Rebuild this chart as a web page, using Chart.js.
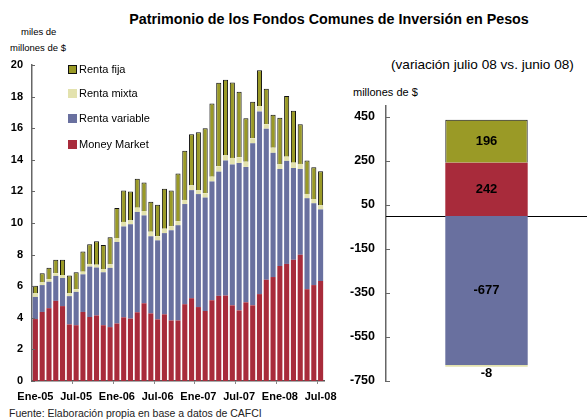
<!DOCTYPE html>
<html>
<head>
<meta charset="utf-8">
<title>Patrimonio de los FCI en Pesos</title>
<script src="https://cdn.jsdelivr.net/npm/chart.js"></script>
<style>
    body { margin: 0; background: #fff; font-family: "Liberation Sans", Arial, sans-serif; }
    .page { position: relative; width: 587px; height: 419px; overflow: hidden; }
    .txt { position: absolute; white-space: nowrap; color: #000; }
    canvas { position: absolute; }
    .sq { position: absolute; width: 9px; height: 9px; box-sizing: border-box; }
</style>
</head>
<body>
<div class="page">
    <div class="txt" style="left:329px; top:11px; font:bold 14.3px/16px 'Liberation Sans'; transform:translateX(-50%);">Patrimonio de los Fondos Comunes de Inversión en Pesos</div>
    <div class="txt" style="left:21px; top:27px; font:9.5px/10px 'Liberation Sans';">miles de</div>
    <div class="txt" style="left:10px; top:43px; font:9.5px/10px 'Liberation Sans';">millones de $</div>
    <div class="txt" style="left:391px; top:57px; font:13.6px/16px 'Liberation Sans';">(variación julio 08 vs. junio 08)</div>
    <div class="txt" style="left:353px; top:86px; font:11px/12px 'Liberation Sans';">millones de $</div>
    <div class="txt" style="left:9px; top:407px; font:10.5px/12px 'Liberation Sans'; color:#222;">Fuente: Elaboración propia en base a datos de CAFCI</div>

    <canvas id="variacion" width="247" height="295" style="left:340px; top:96px;"></canvas>
    <canvas id="evolucion" width="345" height="356" style="left:0; top:55px;"></canvas>

    <!-- leyenda -->
    <div class="sq" style="left:68px; top:65px; background:#9a9a26; border:1px solid #111;"></div>
    <div class="txt" style="left:79px; top:63px; font:11px/13px 'Liberation Sans';">Renta fija</div>
    <div class="sq" style="left:68px; top:89px; background:#e3e2ae;"></div>
    <div class="txt" style="left:79px; top:87px; font:11px/13px 'Liberation Sans';">Renta mixta</div>
    <div class="sq" style="left:68px; top:114px; background:#69709f;"></div>
    <div class="txt" style="left:79px; top:112px; font:11px/13px 'Liberation Sans';">Renta variable</div>
    <div class="sq" style="left:68px; top:140px; background:#a82b3b;"></div>
    <div class="txt" style="left:79px; top:138px; font:11px/13px 'Liberation Sans';">Money Market</div>
</div>

<script>
    // Patrimonio mensual, miles de millones de $
    const meses = [
        'Ene-05','Feb-05','Mar-05','Abr-05','May-05','Jun-05','Jul-05','Ago-05','Sep-05','Oct-05','Nov-05','Dic-05',
        'Ene-06','Feb-06','Mar-06','Abr-06','May-06','Jun-06','Jul-06','Ago-06','Sep-06','Oct-06','Nov-06','Dic-06',
        'Ene-07','Feb-07','Mar-07','Abr-07','May-07','Jun-07','Jul-07','Ago-07','Sep-07','Oct-07','Nov-07','Dic-07',
        'Ene-08','Feb-08','Mar-08','Abr-08','May-08','Jun-08','Jul-08'
    ];
    const moneyMarket = [3.92,4.37,4.61,5.07,4.74,3.58,3.53,4.37,4.05,4.15,3.53,3.41,3.64,4.03,3.95,4.35,4.92,4.28,3.90,4.22,3.83,3.83,4.86,5.24,4.68,4.43,5.11,5.39,5.41,4.79,4.47,4.98,4.79,5.50,6.41,6.58,7.28,7.41,7.67,7.99,5.81,6.07,6.33];
    const rentaVariable = [1.40,1.70,1.67,1.58,1.78,1.79,2.11,2.38,3.19,3.03,3.35,3.75,5.16,5.75,5.97,6.35,5.56,4.88,5.00,5.14,5.71,6.03,6.34,6.84,7.15,7.18,7.52,7.86,8.54,8.91,9.33,8.57,10.25,11.56,9.56,7.86,6.14,6.52,5.81,5.43,5.76,5.18,4.53];
    const rentaMixta = [0.22,0.17,0.17,0.17,0.19,0.17,0.17,0.17,0.17,0.17,0.21,0.21,0.25,0.29,0.24,0.27,0.28,0.28,0.26,0.27,0.26,0.26,0.26,0.29,0.23,0.27,0.30,0.34,0.32,0.42,0.36,0.32,0.32,0.34,0.28,0.32,0.28,0.27,0.34,0.32,0.27,0.27,0.24];
    const rentaFija = [0.49,0.58,0.71,0.85,0.96,1.13,1.07,1.28,1.24,1.49,1.51,1.73,1.90,1.99,1.83,1.83,1.81,1.91,2.00,2.53,2.25,3.02,3.11,3.24,3.68,4.12,4.64,5.28,4.79,4.78,4.14,2.76,2.32,2.27,2.24,2.09,2.96,3.84,3.28,2.51,2.11,2.01,2.17];

    // Variacion julio 08 vs junio 08, millones de $
    const varLabels = ['Jul-08 vs. Jun-08'];
    const varMoneyMarket = [242];
    const varRentaVariable = [-677];
    const varRentaMixta = [-8];
    const varRentaFija = [196];
    const varTicks = [-750, -550, -350, -150, 50, 250, 450];

    const colors = {
        fija: '#9a9a26', fijaBorder: '#111',
        mixta: '#e3e2ae', variable: '#69709f', mm: '#a82b3b'
    };

    Chart.defaults.font.family = "'Liberation Sans', Arial, sans-serif";
    Chart.defaults.color = '#000';

    // keep the plot box exactly where we put it: no extra room for label overflow
    function noPad(s) {
        s.paddingLeft = 0; s.paddingRight = 0; s.paddingTop = 0; s.paddingBottom = 0;
    }

    // small tick marks pointing into the plot
    const innerTicks = {
        id: 'innerTicks',
        afterDraw(chart, args, opts) {
            const y = chart.scales.y, ctx = chart.ctx;
            ctx.save();
            ctx.strokeStyle = '#666';
            ctx.lineWidth = 1;
            y.ticks.forEach(t => {
                const py = Math.round(y.getPixelForValue(t.value)) + 0.5;
                ctx.beginPath();
                ctx.moveTo(y.right, py);
                ctx.lineTo(y.right + opts.len, py);
                ctx.stroke();
            });
            ctx.restore();
        }
    };

    // month labels every 6 bars, centred under their bar
    const monthLabels = {
        id: 'monthLabels',
        afterDraw(chart) {
            const x = chart.scales.x, ctx = chart.ctx;
            ctx.save();
            ctx.font = "bold 11px 'Liberation Sans', Arial, sans-serif";
            ctx.fillStyle = '#000';
            ctx.textAlign = 'center';
            ctx.textBaseline = 'middle';
            meses.forEach((m, i) => {
                if (i % 6 === 0) ctx.fillText(m, x.getPixelForValue(i), x.top + 16);
            });
            ctx.restore();
        }
    };

    new Chart(document.getElementById('evolucion'), {
        type: 'bar',
        data: {
            labels: meses,
            datasets: [
                { label: 'Money Market', data: moneyMarket, backgroundColor: colors.mm },
                { label: 'Renta variable', data: rentaVariable, backgroundColor: colors.variable },
                { label: 'Renta mixta', data: rentaMixta, backgroundColor: colors.mixta },
                { label: 'Renta fija', data: rentaFija, backgroundColor: colors.fija,
                  borderColor: colors.fijaBorder, borderWidth: 1 }
            ]
        },
        plugins: [innerTicks, monthLabels],
        options: {
            responsive: false,
            animation: false,
            layout: { autoPadding: false, padding: { top: 10, right: 21, left: 0, bottom: 0 } },
            datasets: { bar: { barPercentage: 0.75, categoryPercentage: 1 } },
            plugins: {
                legend: { display: false },
                tooltip: { enabled: false },
                innerTicks: { len: 3 }
            },
            scales: {
                x: {
                    stacked: true,
                    afterFit: s => { s.height = 30; noPad(s); },
                    border: { color: '#555', width: 1.5 },
                    grid: {
                        drawOnChartArea: false,
                        tickLength: 3,
                        color: c => (c.index % 6 === 0 && c.index > 0) ? '#888' : 'rgba(0,0,0,0)'
                    },
                    ticks: { display: false, autoSkip: false }
                },
                y: {
                    stacked: true,
                    min: 0,
                    max: 20,
                    afterFit: s => { s.width = 32; noPad(s); },
                    border: { color: '#666', width: 1.5 },
                    grid: { display: false, drawTicks: false },
                    ticks: { stepSize: 2, padding: 9, font: { size: 11, weight: 'bold' } }
                }
            }
        }
    });

    const zeroLine = {
        id: 'zeroLine',
        beforeDatasetsDraw(chart) {
            const y = chart.scales.y, a = chart.chartArea, ctx = chart.ctx;
            const py = Math.round(y.getPixelForValue(0)) + 0.5;
            ctx.save();
            ctx.strokeStyle = '#000';
            ctx.lineWidth = 1;
            ctx.beginPath();
            ctx.moveTo(a.left, py);
            ctx.lineTo(a.right, py);
            ctx.stroke();
            ctx.restore();
        }
    };

    const valueLabels = {
        id: 'valueLabels',
        afterDatasetsDraw(chart) {
            const ctx = chart.ctx;
            ctx.save();
            ctx.font = "bold 13px 'Liberation Sans', Arial, sans-serif";
            ctx.fillStyle = '#000';
            ctx.textAlign = 'center';
            ctx.textBaseline = 'middle';
            chart.data.datasets.forEach((ds, i) => {
                chart.getDatasetMeta(i).data.forEach((bar, j) => {
                    const v = ds.data[j];
                    // thin segments get their label just below the bar
                    const py = Math.abs(v) < 50 ? Math.max(bar.y, bar.base) + 7 : (bar.y + bar.base) / 2;
                    ctx.fillText(String(v), bar.x, py);
                });
            });
            ctx.restore();
        }
    };

    new Chart(document.getElementById('variacion'), {
        type: 'bar',
        data: {
            labels: varLabels,
            datasets: [
                { label: 'Money Market', data: varMoneyMarket, backgroundColor: colors.mm },
                { label: 'Renta variable', data: varRentaVariable, backgroundColor: colors.variable },
                { label: 'Renta mixta', data: varRentaMixta, backgroundColor: colors.mixta },
                { label: 'Renta fija', data: varRentaFija, backgroundColor: colors.fija,
                  borderColor: colors.fijaBorder, borderWidth: 1 }
            ]
        },
        plugins: [innerTicks, zeroLine, valueLabels],
        options: {
            responsive: false,
            animation: false,
            layout: { autoPadding: false, padding: { top: 10, right: 0, left: 0, bottom: 10 } },
            datasets: { bar: { barPercentage: 0.41, categoryPercentage: 1 } },
            plugins: {
                legend: { display: false },
                tooltip: { enabled: false },
                innerTicks: { len: 4 }
            },
            scales: {
                x: { stacked: true, display: false },
                y: {
                    stacked: true,
                    min: -750,
                    max: 500,
                    afterFit: s => { s.width = 46; noPad(s); },
                    afterBuildTicks: s => { s.ticks = varTicks.map(v => ({ value: v })); },
                    border: { color: '#666', width: 1.5 },
                    grid: { display: false, drawTicks: false },
                    ticks: { padding: 11, font: { size: 12.5, weight: 'bold' } }
                }
            }
        }
    });
</script>
</body>
</html>
